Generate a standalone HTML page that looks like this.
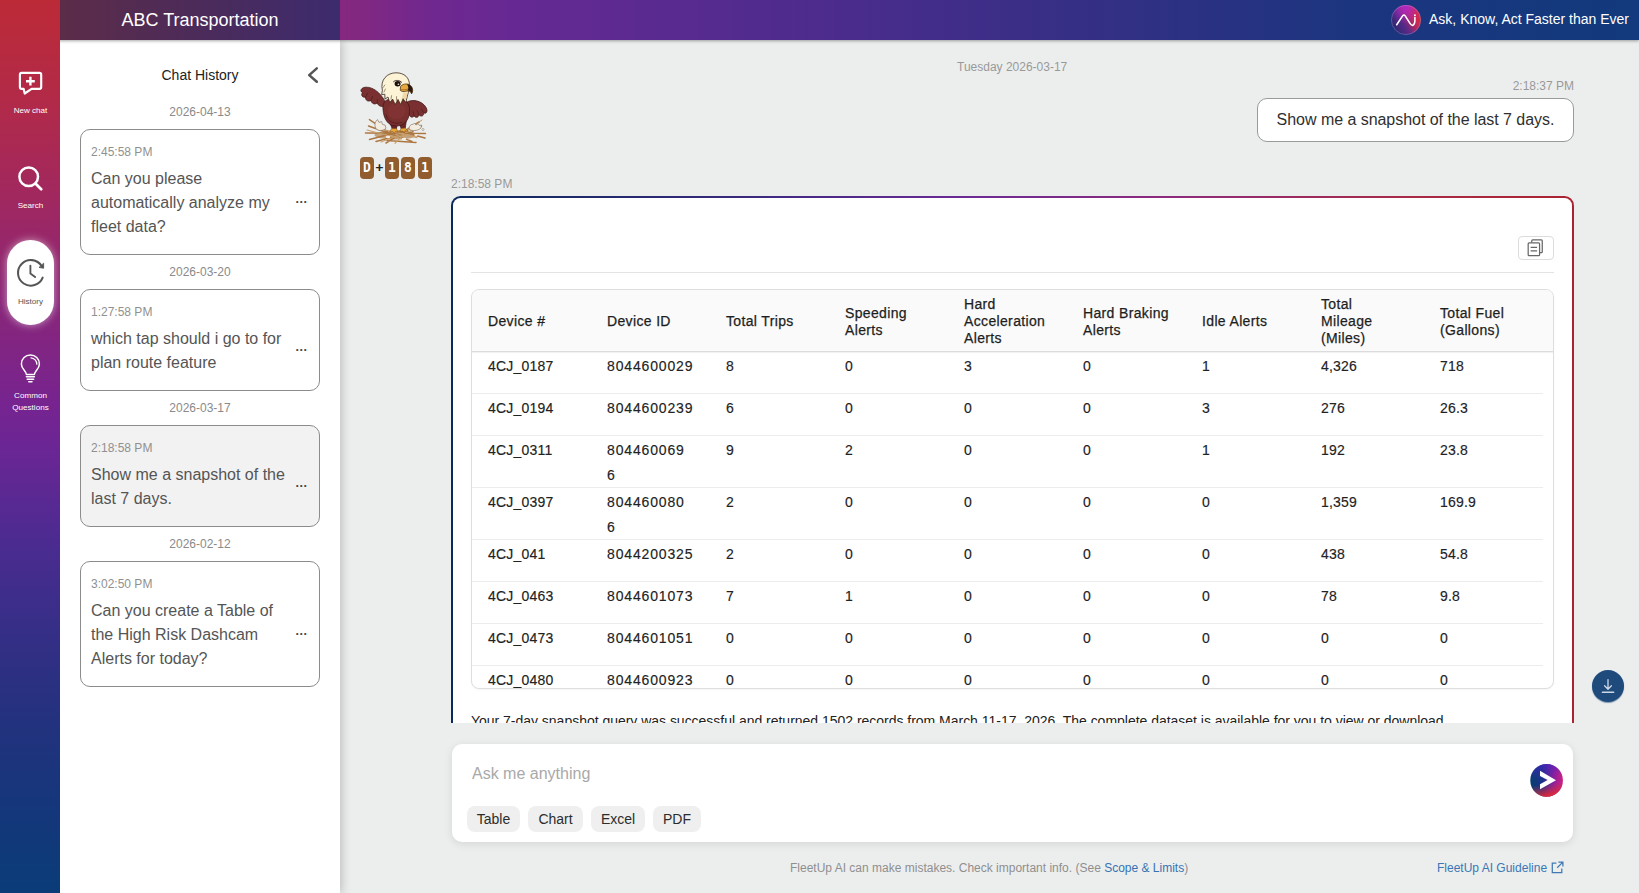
<!DOCTYPE html>
<html lang="en">
<head>
<meta charset="utf-8">
<title>FleetUp AI</title>
<style>
*{box-sizing:border-box;margin:0;padding:0}
html,body{width:1639px;height:893px;overflow:hidden}
body{font-family:"Liberation Sans",Arial,sans-serif;background:#eceeee;position:relative;color:#333}
a{text-decoration:none;color:#3673b2}

/* ---------- header ---------- */
#hdr{position:absolute;left:0;top:0;width:1639px;height:40px;
 background:linear-gradient(90deg,#c1272d 0px,#9a2a5c 230px,#86287e 340px,#70288f 430px,#652993 520px,#4a2c8c 850px,#2f3084 1150px,#1c357f 1350px,#123a7c 1639px);
 box-shadow:0 1px 3px rgba(0,0,0,.35);z-index:5}
#hdr .org{position:absolute;left:60px;top:0;width:280px;height:40px;background:linear-gradient(90deg,#5c2c48,#4a2b5c 55%,#3d2b6e);
 color:#fff;font-size:18px;line-height:40px;text-align:center}
#hdr .tag{position:absolute;right:10px;top:0;height:40px;line-height:39px;color:#fff;font-size:14px;white-space:nowrap}
#hdr .logo{position:absolute;left:1391px;top:5px;width:30px;height:30px}

/* ---------- sidebar ---------- */
#side{position:absolute;left:0;top:0;width:60px;height:893px;z-index:6;
 background:linear-gradient(180deg,#bc2a37 0px,#b22a48 100px,#a02860 200px,#8a2678 300px,#77248f 400px,#6a2695 450px,#4c2b90 540px,#382e88 620px,#27317f 700px,#16367b 800px,#0a3c78 893px)}
.nav{position:absolute;left:0;width:60px;text-align:center;color:#fff;font-size:8.1px;line-height:13px}
.nav div{padding-left:1px}
.nav svg{display:block;margin:0 auto}
#pill{position:absolute;left:7px;top:240px;width:47px;height:85px;border-radius:23.5px;background:#fff;
 box-shadow:0 0 8px rgba(255,255,255,.55)}

/* ---------- history panel ---------- */
#hist{position:absolute;left:60px;top:40px;width:280px;height:853px;background:#fff;z-index:4;
 box-shadow:2px 0 9px rgba(0,0,0,.2)}
#hist h3{position:absolute;left:0;top:26px;width:280px;text-align:center;font-weight:400;font-size:14px;line-height:18px;color:#222}
#hist .chev{position:absolute;left:245px;top:24px}
.date{position:absolute;left:0;width:280px;text-align:center;font-size:12px;line-height:16px;color:#8a8a8a}
.card{position:absolute;left:20px;width:240px;border:1px solid #8c8c8c;border-radius:10px;background:#fff;padding:14px 40px 14px 10px}
.card.sel{background:#f2f2f2}
.card .t{font-size:12px;line-height:16px;color:#909090;margin-bottom:7px}
.card .m{font-size:16px;line-height:24px;color:#555;white-space:nowrap}
.card .dots{position:absolute;left:214.5px;top:50%;margin-top:-3.5px;font-size:12.5px;line-height:20px;color:#444;letter-spacing:.5px;font-weight:700}

/* ---------- main ---------- */
.g12{position:absolute;font-size:12px;line-height:16px;color:#999;white-space:nowrap}
#bubble{position:absolute;left:1257px;top:98px;width:317px;height:44px;border:1px solid #9a9a9a;border-radius:10px;background:#fff;
 font-size:16px;line-height:42px;color:#2f2f2f;text-align:center;white-space:nowrap;letter-spacing:-.04px}
#badge{position:absolute;left:360px;top:157px;height:22px;white-space:nowrap;font-family:"DejaVu Sans Mono","Liberation Mono",monospace;font-weight:700;font-size:13px;color:#fff}
#badge b{position:absolute;top:0;width:14px;height:22px;border-radius:4px;background:#915d2f;text-align:center;line-height:22px;font-weight:700}
#badge b span{display:inline-block;transform:scaleY(1.12);transform-origin:50% 72%}
#badge i{position:absolute;top:0;font-style:normal;color:#222;line-height:21px;font-size:13px;font-weight:700}

#resp{position:absolute;left:451px;top:196px;width:1123px;height:527px;overflow:hidden}
#resp .frame{position:absolute;left:0;top:0;width:1123px;height:700px;border-radius:9.5px;padding:2px;
 background:linear-gradient(90deg,#0a2a5c 0%,#38297c 25%,#6a2a95 45%,#8a2a80 62%,#a82a48 85%,#ab2330 100%)}
#resp .inner{width:100%;height:100%;background:#fff;border-radius:7.5px;position:relative}
#copy{position:absolute;left:1065px;top:38px;width:36px;height:24px;border:1px solid #dcdcdc;border-radius:4px;background:#fff}
#hr{position:absolute;left:18px;top:74px;width:1083px;height:1px;background:#e3e3e3}
#tbl{position:absolute;left:18px;top:91px;width:1083px;height:400px;border:1px solid #dedede;border-radius:8px;overflow:hidden;background:#fff;
 font-size:14px;color:#222;box-shadow:0 1px 2px rgba(0,0,0,.04)}
#tbl .hd{position:absolute;left:0;top:0;width:1081px;height:62px;background:#fafafa;border-bottom:1px solid #dcdcdc;box-shadow:0 1px 1px rgba(0,0,0,.05)}
#tbl .hd span{position:absolute;top:1px;height:60px;display:flex;align-items:center;line-height:17px;font-weight:400;color:#1e1e1e;letter-spacing:.35px;-webkit-text-stroke:.25px #1e1e1e}
#tbl .r{position:absolute;left:0;width:1071px;border-bottom:1px solid #ececec}
#tbl .r span{position:absolute;top:2px;line-height:25px;letter-spacing:.2px;color:#222;-webkit-text-stroke:.15px #222}
#tbl .r span.d{letter-spacing:.85px}
#sum{position:absolute;left:18px;top:513px;font-size:14px;line-height:20px;color:#222;white-space:nowrap;letter-spacing:-.02px}

#dl{position:absolute;left:1592px;top:670px;width:32px;height:32px;border-radius:50%;background:#1f4b7c;box-shadow:0 1px 1px rgba(31,75,124,.55)}
#inp{position:absolute;left:452px;top:744px;width:1121px;height:98px;border-radius:10px;background:#fff;box-shadow:0 2px 8px rgba(0,0,0,.10)}
#inp .ph{position:absolute;left:20px;top:19px;font-size:16px;line-height:22px;color:#a9a9a9}
.chip{position:absolute;top:62px;height:26px;border-radius:8px;background:#efefef;font-size:14px;line-height:26px;color:#2c2c2c;text-align:center}
#send{position:absolute;left:1078px;top:20px;width:33px;height:33px}
#foot{position:absolute;left:340px;top:860px;width:1299px;font-size:12px;line-height:16px;color:#8f8f8f}
#foot .c{position:absolute;left:450px;top:0;white-space:nowrap}
#foot .g{position:absolute;left:1097px;top:0;white-space:nowrap;color:#3a77b4}
</style>
</head>
<body>

<div id="hdr">
  <div class="org">ABC Transportation</div>
  <svg class="logo" viewBox="0 0 30 30">
    <defs>
      <linearGradient id="lg1" x1=".1" y1=".9" x2="1" y2=".35">
        <stop offset="0" stop-color="#26286e"/><stop offset=".4" stop-color="#5a2a88"/><stop offset=".72" stop-color="#c0285a"/><stop offset="1" stop-color="#e02a34"/>
      </linearGradient>
      <radialGradient id="lg2" cx=".5" cy=".08" r=".55"><stop offset="0" stop-color="#b028cc" stop-opacity=".95"/><stop offset="1" stop-color="#b028cc" stop-opacity="0"/></radialGradient>
    </defs>
    <circle cx="15" cy="15" r="14.9" fill="url(#lg1)"/>
    <circle cx="15" cy="15" r="14.9" fill="url(#lg2)"/>
    <circle cx="15" cy="15" r="14.6" fill="none" stroke="#a8b4ee" stroke-opacity=".4" stroke-width=".8"/>
    <path d="M5.7 19.8 L11.6 10.9 Q12.9 9 14.2 10.9 L19 18.4 Q21.4 22 23.1 19 Q23.9 17.4 23.9 15.4 L23.9 12.4" fill="none" stroke="#fff" stroke-width="1.55" stroke-linecap="round" stroke-linejoin="round"/>
    <circle cx="23.9" cy="10.2" r=".95" fill="#fff"/>
  </svg>
  <div class="tag">Ask, Know, Act Faster than Ever</div>
</div>

<div id="side">
  <div class="nav" style="top:70px">
    <svg width="26" height="26" viewBox="0 0 26 26" fill="none" stroke="#fff" stroke-width="2.15" stroke-linecap="round" stroke-linejoin="round">
      <path d="M4.7 2.9 H22.4 Q24.2 2.9 24.2 4.7 V17 Q24.2 18.8 22.4 18.8 H14.6 L7.7 23.5 L6.6 18.8 H4.7 Q2.9 18.8 2.9 17 V4.7 Q2.9 2.9 4.7 2.9 Z"/>
      <path d="M13.4 6.8 V15.6 M9 11.2 H17.8" stroke-width="2.4" stroke-linecap="butt"/>
    </svg>
    <div style="margin-top:8px">New chat</div>
  </div>
  <div class="nav" style="top:165px">
    <svg width="26" height="27" viewBox="0 0 26 27" fill="none" stroke="#fff" stroke-width="2.5" stroke-linecap="round">
      <circle cx="11.7" cy="11.7" r="9.3"/><path d="M18.7 18.7 L24.2 24.2" stroke-width="2.7"/>
    </svg>
    <div style="margin-top:7px">Search</div>
  </div>
  <div id="pill"></div>
  <div class="nav" style="top:258px;color:#555">
    <svg width="30" height="30" viewBox="0 0 30 30" fill="none" stroke="#555" stroke-width="2.05" stroke-linecap="round" stroke-linejoin="round">
      <path d="M26.6 7.97 A12.8 12.8 0 1 0 27.67 19.65"/>
      <path d="M28.6 5.6 V10.2 L24.4 9.5 Z" fill="#555" stroke-width=".9"/>
      <path d="M15.4 7.6 V15.5 L20.1 19.1" stroke-width="1.85"/>
    </svg>
    <div style="margin-top:7px">History</div>
  </div>
  <div class="nav" style="top:353px">
    <svg width="24" height="33" viewBox="0 0 24 33" fill="none" stroke="#fff" stroke-width="1.5" stroke-linecap="round" stroke-linejoin="round">
      <path d="M8.4 21.6 C8.4 17.6 3.4 16.4 3.4 10.9 A9 9 0 0 1 21.4 10.9 C21.4 16.4 16.4 17.6 16.4 21.6 Z"/>
      <path d="M13 4.9 A6.2 6.2 0 0 1 18.8 11.2" stroke-width="1.3"/>
      <path d="M8.4 23.8 H16.4 M9.2 26.3 H15.6 M10.8 28.8 H14" stroke-width="1.5"/>
    </svg>
    <div style="margin-top:4px;line-height:12px">Common<br>Questions</div>
  </div>
</div>

<div id="hist">
  <h3>Chat History</h3>
  <svg class="chev" width="16" height="22" viewBox="0 0 16 22" fill="none" stroke="#555" stroke-width="2.5" stroke-linecap="round" stroke-linejoin="round"><path d="M11.8 4.4 L4.2 11.1 L11.8 17.8"/></svg>

  <div class="date" style="top:64px">2026-04-13</div>
  <div class="card" style="top:89px;height:126px"><div class="t">2:45:58 PM</div><div class="m">Can you please<br>automatically analyze my<br>fleet data?</div><div class="dots">...</div></div>

  <div class="date" style="top:224px">2026-03-20</div>
  <div class="card" style="top:249px;height:102px"><div class="t">1:27:58 PM</div><div class="m">which tap should i go to for<br>plan route feature</div><div class="dots">...</div></div>

  <div class="date" style="top:360px">2026-03-17</div>
  <div class="card sel" style="top:385px;height:102px"><div class="t">2:18:58 PM</div><div class="m">Show me a snapshot of the<br>last 7 days.</div><div class="dots">...</div></div>

  <div class="date" style="top:496px">2026-02-12</div>
  <div class="card" style="top:521px;height:126px"><div class="t">3:02:50 PM</div><div class="m">Can you create a Table of<br>the High Risk Dashcam<br>Alerts for today?</div><div class="dots">...</div></div>
</div>

<!-- MAIN -->
<div class="g12" style="left:957px;top:59px">Tuesday 2026-03-17</div>
<div class="g12" style="left:1473px;top:78px;width:101px;text-align:right">2:18:37 PM</div>
<div id="bubble">Show me a snapshot of the last 7 days.</div>

<!--EAGLE-->
<svg id="eagle" style="position:absolute;left:355px;top:65px" width="80" height="85" viewBox="0 0 80 85">
  <ellipse id="nestfill" cx="40.5" cy="70" rx="21" ry="4.6" fill="#b4885a" opacity=".75"/>
  <g fill="none" stroke-linecap="round">
    <path d="M10.5 68 L70.5 68.6 M13.5 61 L57 76.4 M14.5 74.4 L66.6 61 M31 78 L64 57 M14.4 54.6 L33 67 M21 76.4 L58 66.6 M32 75.4 L61 77.4 M44 66 L70 73" stroke="#ad7742" stroke-width="1.5"/>
    <path d="M12 65 L46 74 M26 77 L60 64 M22 63 L62 72.6 M40 78.4 L56 62" stroke="#c9a06c" stroke-width="1.1"/>
    <path d="M57 62 L67 55" stroke="#bd9058" stroke-width=".9"/>
  </g>
  <ellipse cx="33" cy="72" rx="2.2" ry="1.3" fill="#f4eee2"/><ellipse cx="49" cy="74" rx="2.4" ry="1.3" fill="#f4eee2"/><ellipse cx="61" cy="70" rx="1.8" ry="1.1" fill="#f4eee2"/>
  <!-- egg shells -->
  <path d="M20.5 57 L22.5 54.5 L24 57.5 L26.5 56.5 L27.5 59.5 L30 60 L31 63 C29 66 23 66.5 21 63.5 C19.6 61.5 19.8 59 20.5 57 Z" fill="#f3ece0" stroke="#8a7a6a" stroke-width=".7" stroke-linejoin="round"/>
  <path d="M54 64 C54 61 56 59 58 59.5 L59.5 58 L61 60 L63 58.5 L64.5 60.5 L66.5 60 L66 63 C63 66 57 66.5 54 64 Z" fill="#f3ece0" stroke="#8a7a6a" stroke-width=".7" stroke-linejoin="round"/>
  <circle cx="68" cy="64.5" r="1.1" fill="#f3ece0" stroke="#8a7a6a" stroke-width=".5"/>
  <!-- left wing -->
  <path d="M31 38 C27.5 31 20 21.6 10.4 22.2 C6 22.6 4.4 26.4 7.6 27.6 C5.6 29.8 7.2 33 10.6 32 C10 35 12.8 37.2 16 35.4 C16.4 38.6 19.8 40 22.2 38 C23.2 41 26.6 42.2 30 41.2 Z" fill="#7a3030" stroke="#421818" stroke-width=".8" stroke-linejoin="round"/>
  <path d="M12.6 28.4 L10.6 32 M17.4 31.4 L16 35.4 M22.4 34.4 L22.2 38" fill="none" stroke="#4a1c1c" stroke-width=".7" stroke-linecap="round"/>
  <!-- right wing -->
  <path d="M51 37.6 C57 33.6 67 35.6 71 42.4 C73.2 46 71.4 49.6 68.8 47.6 C69.2 51 66 52.2 64 49.8 C63.6 52.8 60.4 53.2 59 50.8 C58 53 55.2 52.4 54.4 50 Z" fill="#7a3030" stroke="#421818" stroke-width=".8" stroke-linejoin="round"/>
  <path d="M66.4 44 L68.8 47.6 M62 45.6 L64 49.8 M58 46.4 L59 50.8" fill="none" stroke="#4a1c1c" stroke-width=".7" stroke-linecap="round"/>
  <!-- legs -->
  <path d="M33.5 55 L37.4 64 L41.4 64 L42.6 57 Z M44 58 L46.4 64 L50.2 63.4 L51.6 54 Z" fill="#6a2626" stroke="#3a1414" stroke-width=".7" stroke-linejoin="round"/>
  <path d="M36.4 63.6 L41.6 63.6 L43 67.2 L40.4 66.4 L39.4 68.4 L37.6 66.4 L34.8 67.4 Z M45.8 63.4 L50.4 63 L53 66.4 L50 65.8 L49.6 68 L47.6 66 L45 67 Z" fill="#e9a63a" stroke="#7a4a12" stroke-width=".5" stroke-linejoin="round"/>
  <!-- body -->
  <path d="M28 44 C27 36 33 32.6 41 34 C50 32.6 55.4 38 54.6 47 C54 56 48 61.2 41 61 C33 60.8 28.6 54 28 44 Z" fill="#7a2f2f" stroke="#421818" stroke-width=".8"/>
  <ellipse cx="41.5" cy="46" rx="9" ry="8" fill="#853636" opacity=".6"/>
  <path d="M31 50 C33 57 40 60 47 57.4" fill="none" stroke="#54201f" stroke-width="1" stroke-linecap="round"/>
  <!-- head -->
  <path d="M27.4 25.4 C24.8 14.6 32.4 7.8 41 7.8 C49.6 7.8 54.6 13 54.4 20 C54.4 24 53.6 27 52.6 30 L50.8 37.6 L48.2 33.4 L45.6 39.4 L43 34.4 L40.2 39.6 L37.6 34 L34.8 37.6 L33 32 L30 34 L29.8 29.2 L26.6 29.6 Z" fill="#fdf4d8" stroke="#3a2a1a" stroke-width=".8" stroke-linejoin="round"/>
  <path d="M29 27 L30.4 24 M28.2 22.4 L29.8 20 M36 34 L36.6 30.6 M41.4 35.4 L41.6 31.6" fill="none" stroke="#3a2a1a" stroke-width=".5" stroke-linecap="round"/>
  <path d="M48.6 27 C50 27.6 51.6 27.4 52.8 27 L50.4 36.4 L47.8 32 L45.4 37.6 Z" fill="#f0d9a4"/>
  <!-- beak -->
  <path d="M45.6 21.4 C48.6 18 54 18.2 56.6 21.6 C58.2 24 57.8 27 56.6 28.8 C55.6 26.6 54 25.6 51 26.2 C49 26.8 46.4 26.8 45.2 25.2 Z" fill="#e8a93c" stroke="#3a2210" stroke-width=".7" stroke-linejoin="round"/>
  <path d="M51.8 19.2 C56 19.4 59.2 23.4 56.8 29 C56 26.8 55 25.8 52.4 25.6 C53.8 23.8 53.6 21.2 51.8 19.2 Z" fill="#2a1812"/>
  <path d="M46 24.6 C48.4 25.2 51 24.8 53 24" fill="none" stroke="#7a4a12" stroke-width=".6"/>
  <!-- eye -->
  <ellipse cx="42.6" cy="18.8" rx="3" ry="2.7" fill="#1a0f0f"/>
  <ellipse cx="43.4" cy="19.2" rx=".9" ry=".8" fill="#f6e9c6"/>
  <path d="M38.6 16.6 C40.6 14.8 44.4 15 46.6 17.2" fill="none" stroke="#2a1a14" stroke-width=".9" stroke-linecap="round"/>
</svg>
<!--/EAGLE-->

<div id="badge">
  <b style="left:0"><span>D</span></b><i style="left:15.5px">+</i><b style="left:25px"><span>1</span></b><b style="left:41px"><span>8</span></b><b style="left:58px"><span>1</span></b>
</div>

<div class="g12" style="left:451px;top:176px">2:18:58 PM</div>

<div id="resp"><div class="frame"><div class="inner">
  <div id="copy">
    <svg width="34" height="22" viewBox="1.6 1.2 30.4 19.7" fill="none" stroke="#666" stroke-width="1.1" stroke-linejoin="round">
      <path d="M13 6.2 V4.6 Q13 3.8 13.8 3.8 H21.6 Q22.4 3.8 22.4 4.6 V14.4 Q22.4 15.2 21.6 15.2 H20.2"/>
      <rect x="9.8" y="6.4" width="10.2" height="11.4" rx=".8"/>
      <path d="M12 10.4 H17.8 M12 13.6 H17.8" stroke-width="1.1"/>
    </svg>
  </div>
  <div id="hr"></div>
  <div id="tbl">
    <!--ROWS-->
    <div class="hd">
    <span style="left:16px">Device #</span>
    <span style="left:135px">Device ID</span>
    <span style="left:254px">Total Trips</span>
    <span style="left:373px;padding-top:2px">Speeding<br>Alerts</span>
    <span style="left:492px">Hard<br>Acceleration<br>Alerts</span>
    <span style="left:611px;padding-top:2px">Hard Braking<br>Alerts</span>
    <span style="left:730px">Idle Alerts</span>
    <span style="left:849px">Total<br>Mileage<br>(Miles)</span>
    <span style="left:968px;padding-top:2px">Total Fuel<br>(Gallons)</span>
    </div>
    <div class="r" style="top:62px;height:42px"><span style="left:16px">4CJ_0187</span><span class="d" style="left:135px">8044600029</span><span style="left:254px">8</span><span style="left:373px">0</span><span style="left:492px">3</span><span style="left:611px">0</span><span style="left:730px">1</span><span style="left:849px">4,326</span><span style="left:968px">718</span></div>
    <div class="r" style="top:104px;height:42px"><span style="left:16px">4CJ_0194</span><span class="d" style="left:135px">8044600239</span><span style="left:254px">6</span><span style="left:373px">0</span><span style="left:492px">0</span><span style="left:611px">0</span><span style="left:730px">3</span><span style="left:849px">276</span><span style="left:968px">26.3</span></div>
    <div class="r" style="top:146px;height:52px"><span style="left:16px">4CJ_0311</span><span class="d" style="left:135px">804460069<br>6</span><span style="left:254px">9</span><span style="left:373px">2</span><span style="left:492px">0</span><span style="left:611px">0</span><span style="left:730px">1</span><span style="left:849px">192</span><span style="left:968px">23.8</span></div>
    <div class="r" style="top:198px;height:52px"><span style="left:16px">4CJ_0397</span><span class="d" style="left:135px">804460080<br>6</span><span style="left:254px">2</span><span style="left:373px">0</span><span style="left:492px">0</span><span style="left:611px">0</span><span style="left:730px">0</span><span style="left:849px">1,359</span><span style="left:968px">169.9</span></div>
    <div class="r" style="top:250px;height:42px"><span style="left:16px">4CJ_041</span><span class="d" style="left:135px">8044200325</span><span style="left:254px">2</span><span style="left:373px">0</span><span style="left:492px">0</span><span style="left:611px">0</span><span style="left:730px">0</span><span style="left:849px">438</span><span style="left:968px">54.8</span></div>
    <div class="r" style="top:292px;height:42px"><span style="left:16px">4CJ_0463</span><span class="d" style="left:135px">8044601073</span><span style="left:254px">7</span><span style="left:373px">1</span><span style="left:492px">0</span><span style="left:611px">0</span><span style="left:730px">0</span><span style="left:849px">78</span><span style="left:968px">9.8</span></div>
    <div class="r" style="top:334px;height:42px"><span style="left:16px">4CJ_0473</span><span class="d" style="left:135px">8044601051</span><span style="left:254px">0</span><span style="left:373px">0</span><span style="left:492px">0</span><span style="left:611px">0</span><span style="left:730px">0</span><span style="left:849px">0</span><span style="left:968px">0</span></div>
    <div class="r" style="top:376px;height:42px"><span style="left:16px">4CJ_0480</span><span class="d" style="left:135px">8044600923</span><span style="left:254px">0</span><span style="left:373px">0</span><span style="left:492px">0</span><span style="left:611px">0</span><span style="left:730px">0</span><span style="left:849px">0</span><span style="left:968px">0</span></div>
    <!--/ROWS-->
  </div>
  <div id="sum">Your 7-day snapshot query was successful and returned 1502 records from March 11-17, 2026. The complete dataset is available for you to view or download.</div>
</div></div></div>

<div id="dl">
  <svg width="32" height="32" viewBox="0 0 32 32" fill="none" stroke="#cfd8e6" stroke-width="1.3" stroke-linecap="round" stroke-linejoin="round">
    <path d="M16 9.6 V19 M12.6 15.8 L16 19.2 L19.4 15.8"/><path d="M10.4 22.2 H21.6" stroke-width="1.5"/>
  </svg>
</div>

<div id="inp">
  <div class="ph">Ask me anything</div>
  <div class="chip" style="left:15px;width:53px">Table</div>
  <div class="chip" style="left:76px;width:55px">Chart</div>
  <div class="chip" style="left:139px;width:54px">Excel</div>
  <div class="chip" style="left:201px;width:48px">PDF</div>
  <svg id="send" viewBox="0 0 33 33">
    <defs><linearGradient id="sg" x1="0" y1=".5" x2="1" y2=".5">
      <stop offset="0" stop-color="#083e70"/><stop offset=".36" stop-color="#1a3388"/><stop offset=".66" stop-color="#7a22a0"/><stop offset="1" stop-color="#d01f86"/></linearGradient>
      <linearGradient id="sg2" x1=".42" y1="0" x2=".58" y2="1"><stop offset="0" stop-color="#4a22c8" stop-opacity=".6"/><stop offset=".42" stop-color="#4a22c8" stop-opacity="0"/><stop offset=".6" stop-color="#e02a34" stop-opacity="0"/><stop offset="1" stop-color="#e62a30" stop-opacity="1"/></linearGradient></defs>
    <circle cx="16.6" cy="16.4" r="16.3" fill="url(#sg)"/>
    <circle cx="16.6" cy="16.4" r="16.3" fill="url(#sg2)"/>
    <path d="M10 6.8 L26 16.3 L10 25.2 L10 20.2 L17.7 16 L10 12 Z" fill="#fff"/>
  </svg>
</div>

<div id="foot">
  <div class="c">FleetUp AI can make mistakes. Check important info. (See <a>Scope &amp; Limits</a>)</div>
  <div class="g">FleetUp AI Guideline
    <svg width="13" height="13" viewBox="0 0 13 13" fill="none" stroke="#4079b3" stroke-width="1.25" stroke-linecap="butt" stroke-linejoin="miter" style="vertical-align:-2px;margin-left:1px">
      <path d="M5.4 2.2 H1.3 V11.7 H10.8 V7.6"/><path d="M7.4 1.1 H11.9 V5.6 M11.6 1.4 L6.2 6.8"/>
    </svg>
  </div>
</div>

</body>
</html>
